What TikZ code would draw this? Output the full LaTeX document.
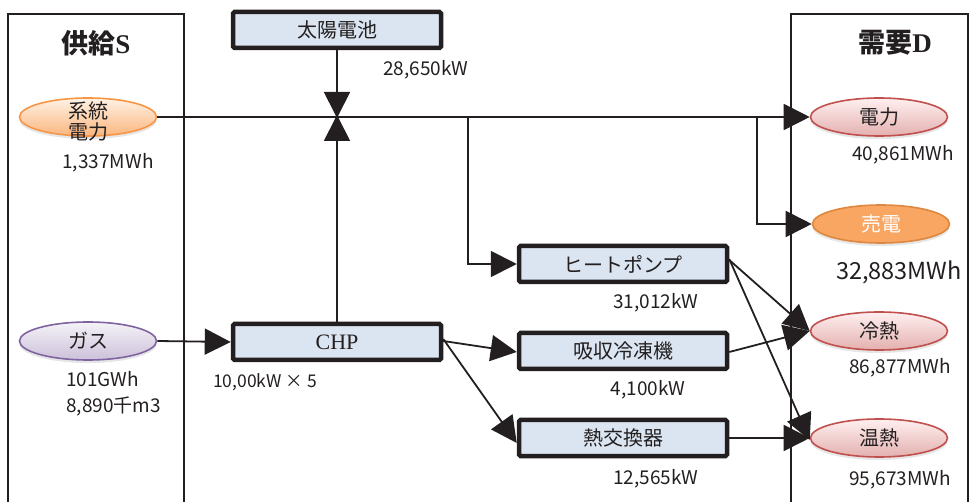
\documentclass[tikz,border=0pt]{standalone}
\usepackage{fontspec}
\setmainfont{Noto Sans CJK JP}
\newfontfamily\serifjp{Liberation Serif}
\usetikzlibrary{shapes.geometric,arrows.meta,shadows}
\definecolor{boxfill}{HTML}{DBE5F1}
\definecolor{orgline}{HTML}{F79646}
\definecolor{redline}{HTML}{C0504D}
\definecolor{purline}{HTML}{8064A2}
\definecolor{txt}{HTML}{231F20}
\tikzset{
  unitbox/.style={draw=txt, line width=4.5pt, fill=boxfill, rounded corners=1.5pt,
    minimum width=208pt, minimum height=36pt, inner sep=0pt,
    font=\fontsize{20}{22}\selectfont, text=txt},
  oval/.style={ellipse, line width=1.6pt, minimum width=137pt, minimum height=38pt, inner sep=0pt,
    font=\fontsize{20}{22}\selectfont, text=txt,
    drop shadow={opacity=0.2, shadow xshift=0pt, shadow yshift=-3pt}},
  orangeoval/.style={oval, draw=orgline, top color=orange!10, bottom color=orgline!70},
  redoval/.style={oval, draw=redline, top color=red!6, bottom color=redline!45},
  purpleoval/.style={oval, draw=purline, top color=purline!8, bottom color=purline!40},
  selloval/.style={oval, draw=orgline!90!black, top color=orgline!85, bottom color=orgline!100!black!85, text=white},
  val/.style={font=\fontsize{19}{21}\selectfont, text=txt, inner sep=0pt},
  flow/.style={draw=txt, line width=1.8pt, -{Triangle[length=26pt,width=26pt]}},
  frame/.style={draw=txt, line width=1.8pt},
  title/.style={font=\fontsize{27}{29}\selectfont\bfseries, text=txt, inner sep=0pt}
}
\begin{document}
\begin{tikzpicture}[x=1pt,y=-1pt]
\useasboundingbox (0,0) rectangle (972,502);
% frames
\draw[frame] (8,503) -- (8,14) -- (184,14) -- (184,503);
\draw[frame] (791,503) -- (791,14) -- (968,14) -- (968,503);
\node[title] (tS) at (96,43) {供給{\serifjp\bfseries S}};
\node[title] (tD) at (895,43) {需要{\serifjp\bfseries D}};

% units
\node[unitbox] (pv) at (337,30) {太陽電池};
\node[unitbox] (chp) at (337,342) {\serifjp\fontsize{22}{24}\selectfont CHP};
\node[unitbox] (hp) at (623,264) {ヒートポンプ};
\node[unitbox] (ab) at (623,351) {吸収冷凍機};
\node[unitbox] (hx) at (623,438) {熱交換器};

% ovals
\node[orangeoval] (grid) at (88,117) {};
\node[font=\fontsize{20}{22}\selectfont, text=txt, align=center, inner sep=0pt] (gridt) at (88,121) {系統\\[-1pt]電力};
\node[purpleoval] (gas) at (88,341) {ガス};
\node[redoval] (pw) at (879,117) {電力};
\node[selloval] (sell) at (881,224) {売電};
\node[redoval] (cold) at (879,331) {冷熱};
\node[redoval] (warm) at (879,438) {温熱};

% values
\node[val] (v1) at (108,163) {1,337MWh};
\node[val, anchor=west] (v2) at (66,379) {101GWh};
\node[val, anchor=west] (v3) at (66,406) {8,890千m3};
\node[val] (v4) at (426,70) {28,650kW};
\node[val, anchor=west, font=\fontsize{17.5}{19}\selectfont] (v5) at (213,382) {10,00kW × 5};
\node[val] (v6) at (656,303) {31,012kW};
\node[val] (v7) at (648,390) {4,100kW};
\node[val] (v8) at (656,479) {12,565kW};
\node[val] (v9) at (903,155) {40,861MWh};
\node[val, font=\fontsize{23.5}{25}\selectfont] (v10) at (899,272) {32,883MWh};
\node[val] (v11) at (900,368) {86,877MWh};
\node[val] (v12) at (900,480) {95,673MWh};

% junctions
\coordinate (jc) at (337,117);
\coordinate (j1) at (468,117);
\coordinate (j2) at (757,117);

% connectors
\draw[flow] (grid.east) -- (pw.west);
\draw[flow] (pv.south) -- ([yshift=-1pt]jc);
\draw[flow] (chp.north) -- ([yshift=2pt]jc);
\draw[flow] (j1) |- (hp.west);
\draw[flow] (j2) |- (sell.west);
\draw[flow] (gas.east) -- (chp.west);
\draw[flow] ([yshift=1pt]chp.east) -- ([yshift=-1pt]ab.west);
\draw[flow] ([yshift=3pt]chp.east) -- ([yshift=-5pt]hx.west);
\draw[flow] ([yshift=4pt]hp.east) -- (cold.west);
\draw[flow] ([yshift=5pt]hp.east) -- ([yshift=-2pt]warm.west);
\draw[flow] ([yshift=-1pt]ab.east) -- (cold.west);
\draw[flow] (hx.east) -- (warm.west);
\end{tikzpicture}
\end{document}
